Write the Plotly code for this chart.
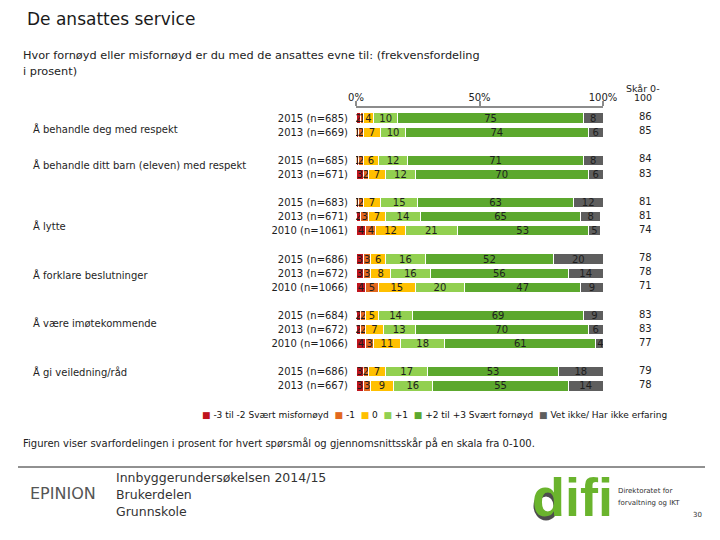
import plotly.graph_objects as go

# ---------------- data ----------------
categories = [
    "Å behandle deg med respekt",
    "Å behandle ditt barn (eleven) med respekt",
    "Å lytte",
    "Å forklare beslutninger",
    "Å være imøtekommende",
    "Å gi veiledning/råd",
]
group_sizes = [2, 2, 3, 3, 3, 2]
row_labels = [
    "2015 (n=685)", "2013 (n=669)",
    "2015 (n=685)", "2013 (n=671)",
    "2015 (n=683)", "2013 (n=671)", "2010 (n=1061)",
    "2015 (n=686)", "2013 (n=672)", "2010 (n=1066)",
    "2015 (n=684)", "2013 (n=672)", "2010 (n=1066)",
    "2015 (n=686)", "2013 (n=667)",
]
very_dissatisfied = [2, 1, 1, 3, 1, 2, 4, 3, 3, 4, 2, 2, 4, 3, 3]
minus_one =         [1, 2, 2, 2, 2, 3, 4, 3, 3, 5, 2, 2, 3, 2, 3]
zero =              [4, 7, 6, 7, 7, 7, 12, 6, 8, 15, 5, 7, 11, 7, 9]
plus_one =          [10, 10, 12, 12, 15, 14, 21, 16, 16, 20, 14, 13, 18, 17, 16]
very_satisfied =    [75, 74, 71, 70, 63, 65, 53, 52, 56, 47, 69, 70, 61, 53, 55]
dont_know =         [8, 6, 8, 6, 12, 8, 5, 20, 14, 9, 9, 6, 4, 18, 14]
scores =            [86, 85, 84, 83, 81, 81, 74, 78, 78, 71, 83, 83, 77, 79, 78]

series_names = ["-3 til -2 Svært misfornøyd", "-1", "0", "+1",
                "+2 til +3 Svært fornøyd", "Vet ikke/ Har ikke erfaring"]
series_values = [very_dissatisfied, minus_one, zero, plus_one, very_satisfied, dont_know]
series_colors = ["#C0141C", "#E2681E", "#FFC000", "#92D050", "#5CA82E", "#5E5E5E"]

# category label offsets (relative to group's first row)
cat_label_offset = [0.78, 0.33, 1.66, 1.13, 0.54, 0.0]

# ---------------- layout constants ----------------
W, H = 720, 540
OX, OY = 8, 8   # page body offset
ML, MR, MT, MB = 356 - OX, 117 + OX, 108 - OY, 147 + OY
PW, PH = W - ML - MR, H - MT - MB
FONT = "DejaVu Sans"


def ax(px):
    return (px - OX - ML) / PW


def ay(py):
    return (H - MB - (py - OY)) / PH


# row positions (slot index, one empty slot after each group)
positions, group_start = [], []
slot = 0
for size in group_sizes:
    group_start.append(slot)
    for _ in range(size):
        positions.append(slot)
        slot += 1
    slot += 1

fig = go.Figure()
for name, vals, col in zip(series_names, series_values, series_colors):
    fig.add_trace(go.Bar(
        orientation="h", x=vals, y=positions, name=name,
        marker=dict(color=col, line=dict(color="white", width=1)),
        width=0.72, text=[str(v) for v in vals],
        textposition="inside", insidetextanchor="middle", textangle=0,
        textfont=dict(family=FONT, size=10, color="#1e1e1e"),
        showlegend=False, hoverinfo="skip",
    ))

ann = []
ann.append(dict(text="De ansattes service", x=ax(26), y=ay(19), size=17, color="#1a1a1a"))
ann.append(dict(text="Hvor fornøyd eller misfornøyd er du med de ansattes evne til: (frekvensfordeling",
                x=ax(22), y=ay(55), size=11.3, color="#222"))
ann.append(dict(text="i prosent)", x=ax(22), y=ay(71), size=11.3, color="#222"))
ann.append(dict(text="Skår 0-", x=ax(643), y=ay(88), size=9.5, color="#222", anchor="center"))
ann.append(dict(text="100", x=ax(643), y=ay(98), size=9.5, color="#222", anchor="center"))

legend_txt = "  ".join(
    f'<span style="color:{c}">■</span> {n}' for n, c in zip(series_names, series_colors))
ann.append(dict(text=legend_txt, x=ax(201), y=ay(415), size=9, color="#111"))
ann.append(dict(text="Figuren viser svarfordelingen i prosent for hvert spørsmål og gjennomsnittsskår på en skala fra 0-100.",
                x=ax(22), y=ay(443), size=10, color="#222"))
ann.append(dict(text="EPINION", x=ax(29), y=ay(493), size=16, color="#555"))
ann.append(dict(text="Innbyggerundersøkelsen 2014/15", x=ax(115), y=ay(477), size=12.5, color="#333"))
ann.append(dict(text="Brukerdelen", x=ax(115), y=ay(494), size=12.5, color="#333"))
ann.append(dict(text="Grunnskole", x=ax(115), y=ay(511), size=12.5, color="#333"))
ann.append(dict(text="<b>difi</b>", x=ax(531), y=ay(497), size=54, color="#6AB42D", family="Liberation Sans"))
ann.append(dict(text="Direktoratet for", x=ax(617), y=ay(491), size=7, color="#333"))
ann.append(dict(text="forvaltning og IKT", x=ax(617), y=ay(503), size=7, color="#333"))
ann.append(dict(text="30", x=ax(692), y=ay(515), size=7, color="#333"))

annotations = []
for a in ann:
    annotations.append(dict(
        text=a["text"], x=a["x"], y=a["y"], xref="paper", yref="paper",
        xanchor=a.get("anchor", "left"), yanchor="middle", showarrow=False, borderpad=0,
        font=dict(family=a.get("family", FONT), size=a["size"], color=a["color"])))

for cat, gs, off in zip(categories, group_start, cat_label_offset):
    annotations.append(dict(text=cat, x=ax(31), y=gs + off, xref="paper", yref="y",
                            xanchor="left", yanchor="middle", showarrow=False,
                            font=dict(family=FONT, size=10, color="#1e1e1e")))
for p, s in zip(positions, scores):
    annotations.append(dict(text=str(s), x=ax(645), y=p - 0.1, xref="paper", yref="y",
                            xanchor="center", yanchor="middle", showarrow=False,
                            font=dict(family=FONT, size=10, color="#1e1e1e")))

shapes = [
    dict(type="line", xref="paper", yref="paper", x0=ax(18), x1=ax(705), y0=ay(467), y1=ay(467),
         line=dict(color="#222", width=1)),
    dict(type="circle", xref="paper", yref="paper", x0=ax(536), x1=ax(556), y0=ay(518), y1=ay(494),
         line=dict(color="#4d4d4d", width=5), layer="above"),
]

fig.update_layout(
    width=W, height=H, barmode="stack",
    margin=dict(l=ML, r=MR, t=MT, b=MB, pad=0),
    paper_bgcolor="white", plot_bgcolor="white",
    font=dict(family=FONT, size=10, color="#1e1e1e"),
    uniformtext=dict(minsize=10, mode="show"),
    annotations=annotations, shapes=shapes,
    xaxis=dict(side="top", range=[0, 100], tickvals=[0, 50, 100],
               ticktext=["0%", "50%", "100%"], showline=True, linecolor="#8c8c8c",
               linewidth=1.5, ticks="outside", ticklen=5, tickcolor="#8c8c8c",
               tickwidth=1.5, showgrid=False, zeroline=False, ticklabelstandoff=-4,
               tickfont=dict(family=FONT, size=10, color="#222")),
    yaxis=dict(range=[19.5, -0.71], tickvals=positions, ticktext=row_labels,
               showgrid=False, zeroline=False, showline=False, ticks="",
               ticklabelstandoff=7, tickfont=dict(family=FONT, size=10, color="#1e1e1e")),
)

fig.write_html("out.html")
